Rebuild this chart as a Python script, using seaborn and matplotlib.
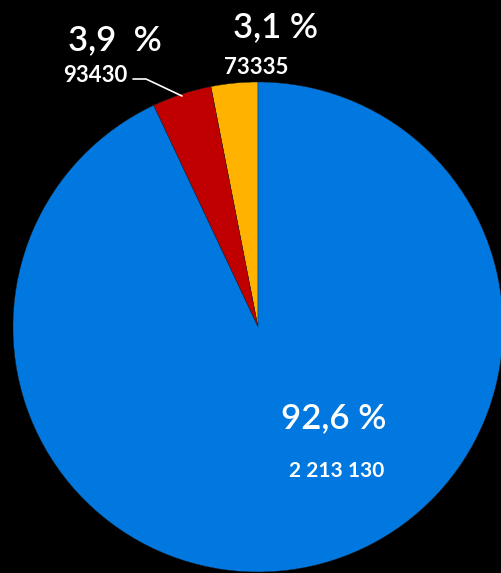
#!/usr/bin/env python
"""Pie chart of three categories on a black background"""
import matplotlib
matplotlib.use('Agg')
import matplotlib.pyplot as plt
import seaborn as sns

#BEGIN DATA
counts = [73335, 93430, 2213130]
count_labels = ['73335', '93430', '2 213 130']
pct_labels = ['3,1 %', '3,9  %', '92,6 %']
colors = ['#FFB300', '#C00000', '#0078E0']
#END DATA

sns.set_theme(style='dark')
plt.rcParams['font.family'] = ['Lato', 'DejaVu Sans']

W, H = 502, 573
fig = plt.figure(figsize=(W / 100, H / 100), dpi=100, facecolor='black')
ax = fig.add_axes([0, 0, 1, 1])
ax.set_facecolor('black')

# pie starts at top, goes counterclockwise: yellow, red, then blue
ax.pie(counts, colors=colors, startangle=90, counterclock=True,
       radius=245, center=(258, H - 327), frame=True,
       wedgeprops=dict(edgecolor='#202020', linewidth=0.3))
ax.set_xlim(0, W)
ax.set_ylim(0, H)
ax.set_axis_off()

# percentage labels
pct_pos = [(276, H - 27), (115, H - 40), (334, H - 418)]
for (x, y), t in zip(pct_pos, pct_labels):
    ax.text(x, y, t, color='white', fontsize=25, fontweight='semibold',
            ha='center', va='center')

# count labels
cnt_pos = [(256, H - 68), (95, H - 75), (337, H - 471)]
cnt_size = [16, 16, 15]
for (x, y), t, s in zip(cnt_pos, count_labels, cnt_size):
    ax.text(x, y, t, color='white', fontsize=s, fontweight='bold',
            ha='center', va='center')

# leader line for the red slice
ax.plot([133, 146, 182], [H - 79, H - 79, H - 96], color='white', lw=1.2)

fig.savefig('out.png', dpi=100, facecolor='black')
